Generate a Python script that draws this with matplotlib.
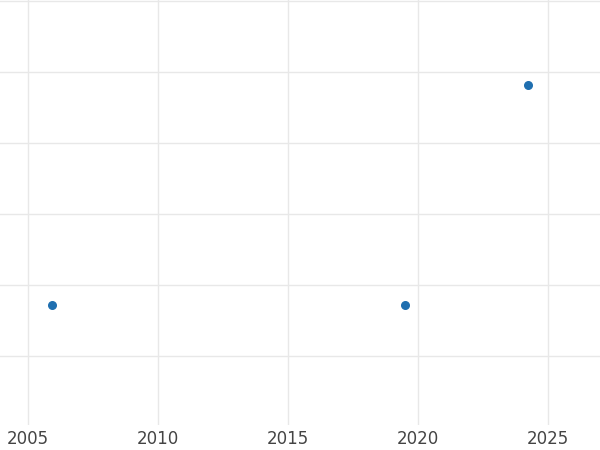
import matplotlib.pyplot as plt

years = [2005.92, 2019.5, 2024.23]
values = [1.72, 1.72, 4.82]
xticks = [2005, 2010, 2015, 2020, 2025]

fig = plt.figure(figsize=(6, 4.5), dpi=100)
ax = fig.add_axes([0, 0.056, 1, 0.944])
ax.scatter(years, values, s=30, color='#1f6fb0', zorder=3)
ax.set_xlim(2003.92, 2027.0)
ax.set_ylim(0.03, 6.01)
ax.set_xticks(xticks)
ax.set_yticks([1, 2, 3, 4, 5, 6])
ax.tick_params(axis='y', left=False, labelleft=False)
ax.tick_params(axis='x', length=0, labelsize=12, labelcolor='#444444', pad=4)
ax.grid(True, color='#e8e8e8', linewidth=1)
for s in ax.spines.values():
    s.set_visible(False)
fig.savefig('out.png')
